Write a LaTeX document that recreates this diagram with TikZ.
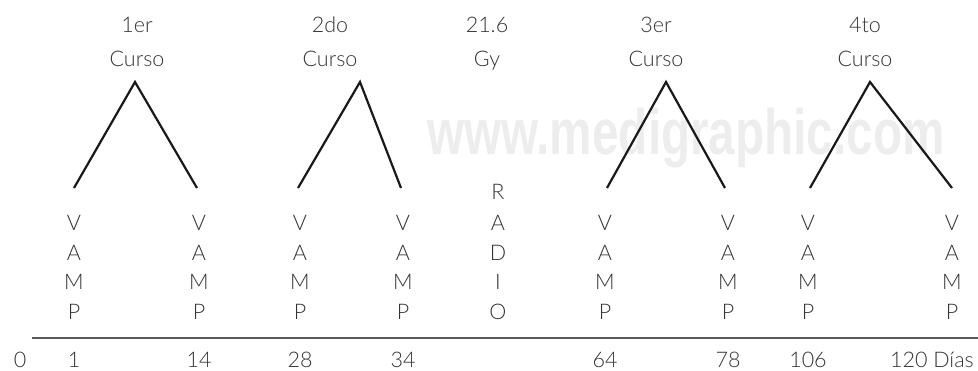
\documentclass[tikz,border=0pt]{standalone}
\usepackage{fontspec}
\setmainfont{Lato}[UprightFont={* Light}]
\newfontfamily\wmfont{Liberation Sans}
\begin{document}
\begin{tikzpicture}[x=1pt,y=-1pt,
  lbl/.style={anchor=base,inner sep=0pt,text=black!80,font=\fontsize{21.5}{25}\selectfont},
  leg/.style={line width=2.2pt,black!90},
  axis/.style={line width=1.4pt,black!65}]
\useasboundingbox (0,0) rectangle (978,371);
% watermark
\node[anchor=base west,inner sep=0pt,text=black!7,font=\wmfont\bfseries\fontsize{64}{70}\selectfont] (wm) at (427,155) {\scalebox{0.745}[1]{www.medigraphic.com}};
% top labels
\foreach \n/\x/\a/\b in {c1/137/1er/Curso, c2/330/2do/Curso, c5/487/21.6/Gy, c3/656/3er/Curso, c4/865/4to/Curso}{
  \node[lbl] (\n a) at (\x,33) {\a};
  \node[lbl] (\n b) at (\x,67) {\b};
}
% triangles
\foreach \n/\l/\t/\r in {t1/74/135/197, t2/298/360/401, t3/607/666/725, t4/810/870/952}{
  \coordinate (\n l) at (\l,188);
  \coordinate (\n t) at (\t,82);
  \coordinate (\n r) at (\r,188);
  \draw[leg] (\n l) -- (\n t) -- (\n r);
}
% VAMP columns
\foreach \n/\x in {v1/74, v2/199, v3/300, v4/403, v5/605, v6/728, v7/808, v8/952}{
  \node[lbl] (\n V) at (\x,231) {V};
  \node[lbl] (\n A) at (\x,261) {A};
  \node[lbl] (\n M) at (\x,290) {M};
  \node[lbl] (\n P) at (\x,320) {P};
}
% RADIO
\node[lbl] (rR) at (498,200) {R};
\node[lbl] (rA) at (498,231) {A};
\node[lbl] (rD) at (498,261) {D};
\node[lbl] (rI) at (498,290) {I};
\node[lbl] (rO) at (498,320) {O};
% axis
\coordinate (axl) at (32,338);
\coordinate (axr) at (978,338);
\draw[axis] (axl) -- (axr);
% day numbers
\foreach \n/\x/\t in {d0/20/0, d1/74/1, d14/199/14, d28/300/28, d34/403/34, d64/605/64, d78/728/78, d106/808/106}{
  \node[lbl] (\n) at (\x,368) {\t};
}
\node[lbl,anchor=base east] (d120) at (974,368) {120 Días};
\end{tikzpicture}
\end{document}
